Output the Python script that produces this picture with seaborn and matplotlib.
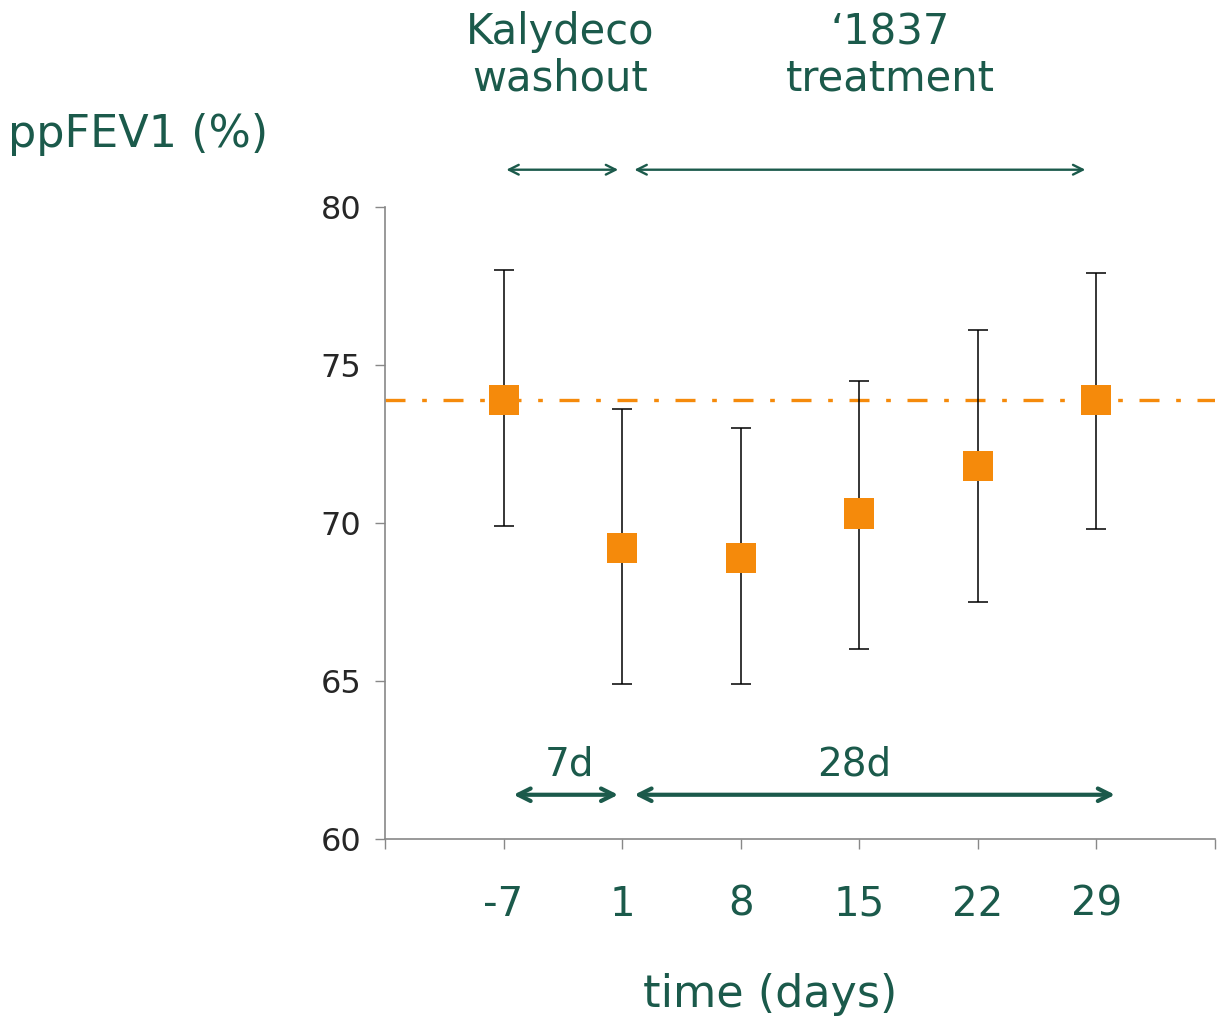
import numpy as np
import pandas as pd
import matplotlib
matplotlib.use('Agg')
import matplotlib.pyplot as plt
import seaborn as sns

sns.set_style('white')
plt.rcParams['font.family'] = ['DejaVu Sans']

GREEN = '#1b5a4b'
ORANGE = '#f58a0b'

days = ['-7', '1', '8', '15', '22', '29']
ppfev1 = [73.9, 69.2, 68.9, 70.3, 71.8, 73.9]
err_low = [69.9, 64.9, 64.9, 66.0, 67.5, 69.8]
err_high = [78.0, 73.6, 73.0, 74.5, 76.1, 77.9]

df = pd.DataFrame({'day': days, 'pos': np.arange(1, len(days) + 1), 'ppfev1': ppfev1,
                   'lo': err_low, 'hi': err_high})
baseline = ppfev1[0]

fig = plt.figure(figsize=(12.18, 10.30), dpi=100)
ax = fig.add_axes([385 / 1218, 1 - 839 / 1030, 830 / 1218, 632 / 1030])

# error bars
yerr = np.vstack([df['ppfev1'] - df['lo'], df['hi'] - df['ppfev1']])
ax.errorbar(df['pos'], df['ppfev1'], yerr=yerr, fmt='none', ecolor='black',
            elinewidth=1.1, capsize=7, capthick=1.1, zorder=2)

# baseline dash-dot line
ax.axhline(baseline, color=ORANGE, lw=2.4, ls=(0, (6, 5, 1.4, 5)), zorder=1)

sns.scatterplot(data=df, x='pos', y='ppfev1', marker='s', s=470, color=ORANGE,
                edgecolor='none', ax=ax, zorder=3, legend=False)

ax.set_xlim(0, 7)
ax.set_ylim(60, 80)
ax.set_yticks([60, 65, 70, 75, 80])
# tick marks at slot edges, labels only under the points
ax.set_xticks(range(len(days) + 2))
ax.set_xticklabels([''] + days + [''], fontsize=29, color=GREEN)
ax.tick_params(axis='x', bottom=True, length=7, width=1, color='#888888',
               direction='out', pad=26)
ax.tick_params(axis='y', left=True, length=7, width=1, color='#888888',
               direction='out', labelsize=23, pad=10)
ax.set_xlabel('')
ax.set_ylabel('')
for s in ['top', 'right']:
    ax.spines[s].set_visible(False)
for s in ['left', 'bottom']:
    ax.spines[s].set_color('#888888')
    ax.spines[s].set_linewidth(1.2)

# top arrows (above axes)
top_kw = dict(arrowstyle='<->,head_length=0.7,head_width=0.35', color=GREEN, lw=1.7)
ax.annotate('', xy=(1.0, 1.059), xytext=(1.99, 1.059), xycoords=('data', 'axes fraction'),
            arrowprops=top_kw, annotation_clip=False)
ax.annotate('', xy=(2.08, 1.059), xytext=(5.93, 1.059), xycoords=('data', 'axes fraction'),
            arrowprops=top_kw, annotation_clip=False)
ax.text(1.48, 1.24, 'Kalydeco\nwashout', transform=ax.get_xaxis_transform(), ha='center',
        va='center', fontsize=30, color=GREEN, linespacing=1.12)
ax.text(4.26, 1.24, '\u20181837\ntreatment', transform=ax.get_xaxis_transform(), ha='center',
        va='center', fontsize=30, color=GREEN, linespacing=1.12)

# bottom arrows
bot_kw = dict(arrowstyle='<->,head_length=0.9,head_width=0.45', color=GREEN, lw=3)
ax.annotate('', xy=(1.06, 61.4), xytext=(1.99, 61.4), arrowprops=bot_kw)
ax.annotate('', xy=(2.08, 61.4), xytext=(6.18, 61.4), arrowprops=bot_kw)
ax.text(1.56, 62.35, '7d', ha='center', va='center', fontsize=28, color=GREEN)
ax.text(3.96, 62.35, '28d', ha='center', va='center', fontsize=28, color=GREEN)

fig.text(8 / 1218, 1 - 135 / 1030, 'ppFEV1 (%)', ha='left', va='center', fontsize=32, color=GREEN)
fig.text(770 / 1218, 1 - 995 / 1030, 'time (days)', ha='center', va='center', fontsize=32, color=GREEN)

fig.savefig('out.png', dpi=100)
